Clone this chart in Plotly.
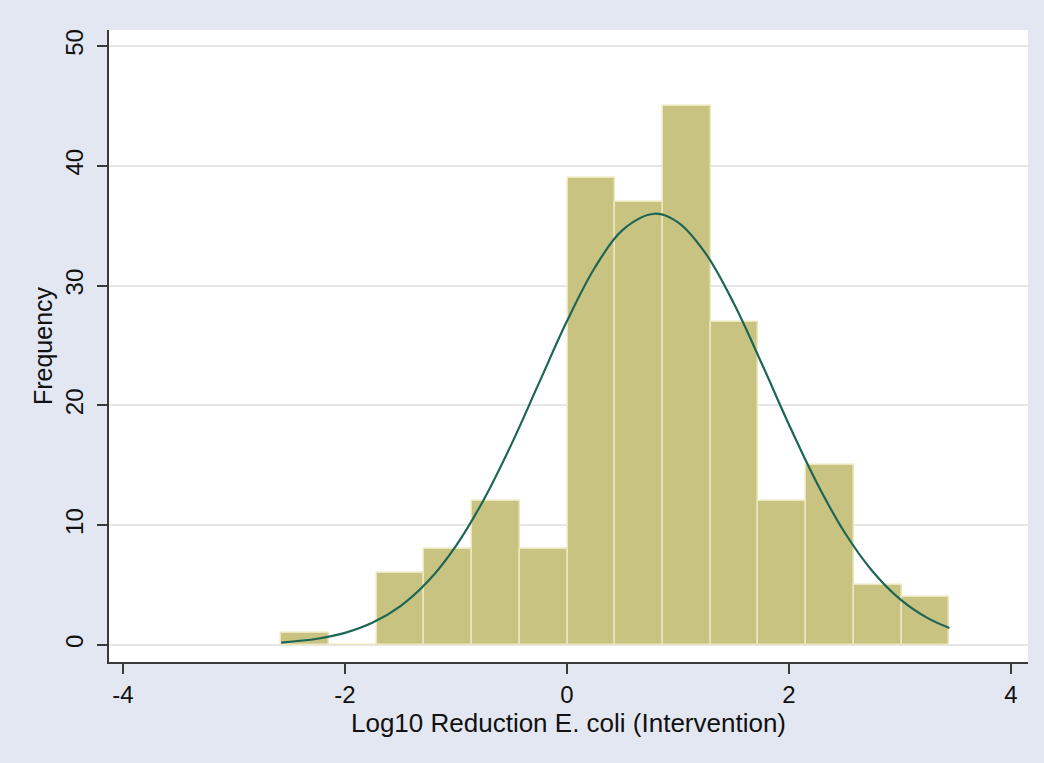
import plotly.graph_objects as go

# Histogram of log10 E. coli reduction (intervention), 14 equal-width bins
bin_start = -2.575
bin_width = 0.43
counts = [1, 0, 6, 8, 12, 8, 39, 37, 45, 27, 12, 15, 5, 4]

# Fitted normal density, scaled to frequency
curve_x = [-2.575, -2.25, -2.0, -1.75, -1.5, -1.25, -1.0, -0.75, -0.5, -0.25, 0.0,
           0.25, 0.5, 0.79, 1.0, 1.25, 1.5, 1.75, 2.0, 2.25, 2.5, 2.75, 3.0, 3.25, 3.445]
curve_y = [0.20, 0.52, 1.01, 1.87, 3.25, 5.34, 8.28, 12.13, 16.77, 21.92, 27.04,
           31.49, 34.64, 36.0, 35.28, 32.67, 28.57, 23.58, 18.39, 13.55, 9.41, 6.18, 3.83, 2.24, 1.42]

x_ticks = [-4, -2, 0, 2, 4]
y_ticks = [0, 10, 20, 30, 40, 50]

centers = [bin_start + bin_width * (i + 0.5) for i in range(len(counts))]

font_family = "Liberation Sans, Arial, sans-serif"
axis_color = "#3a3a3a"

fig = go.Figure()
fig.add_trace(go.Bar(
    x=centers, y=counts, width=bin_width,
    marker=dict(color="#c9c382", line=dict(color="#ebe6bd", width=1.5)),
    showlegend=False,
))
fig.add_trace(go.Scatter(
    x=curve_x, y=curve_y, mode="lines",
    line=dict(color="#1d6656", width=2.2, shape="spline"),
    showlegend=False,
))

fig.update_layout(
    width=1044, height=763,
    margin=dict(l=109, r=16, t=30, b=101),
    paper_bgcolor="#e2e7f1",
    plot_bgcolor="#ffffff",
    bargap=0,
    font=dict(family=font_family, color="#111111"),
)
fig.update_xaxes(
    range=[-4.126, 4.153],
    tickvals=x_ticks, ticktext=[str(v) for v in x_ticks],
    showgrid=False, zeroline=False,
    showline=True, linecolor=axis_color, linewidth=2,
    ticks="outside", ticklen=10, tickwidth=1.5, tickcolor=axis_color,
    tickfont=dict(size=24, family=font_family),
    title=dict(text="Log10 Reduction E. coli (Intervention)",
               font=dict(size=26, family=font_family), standoff=0),
)
fig.update_yaxes(
    range=[-1.42, 51.34],
    tickvals=y_ticks, ticktext=[str(v) for v in y_ticks],
    tickangle=-90,
    showgrid=True, gridcolor="#e6e6e6", gridwidth=1.5,
    zeroline=False,
    showline=True, linecolor=axis_color, linewidth=2,
    ticks="outside", ticklen=10, tickwidth=1.5, tickcolor=axis_color,
    tickfont=dict(size=24, family=font_family),
    ticklabelstandoff=4,
    title=dict(text="Frequency", font=dict(size=25, family=font_family), standoff=2),
)

fig.write_html("out.html")
